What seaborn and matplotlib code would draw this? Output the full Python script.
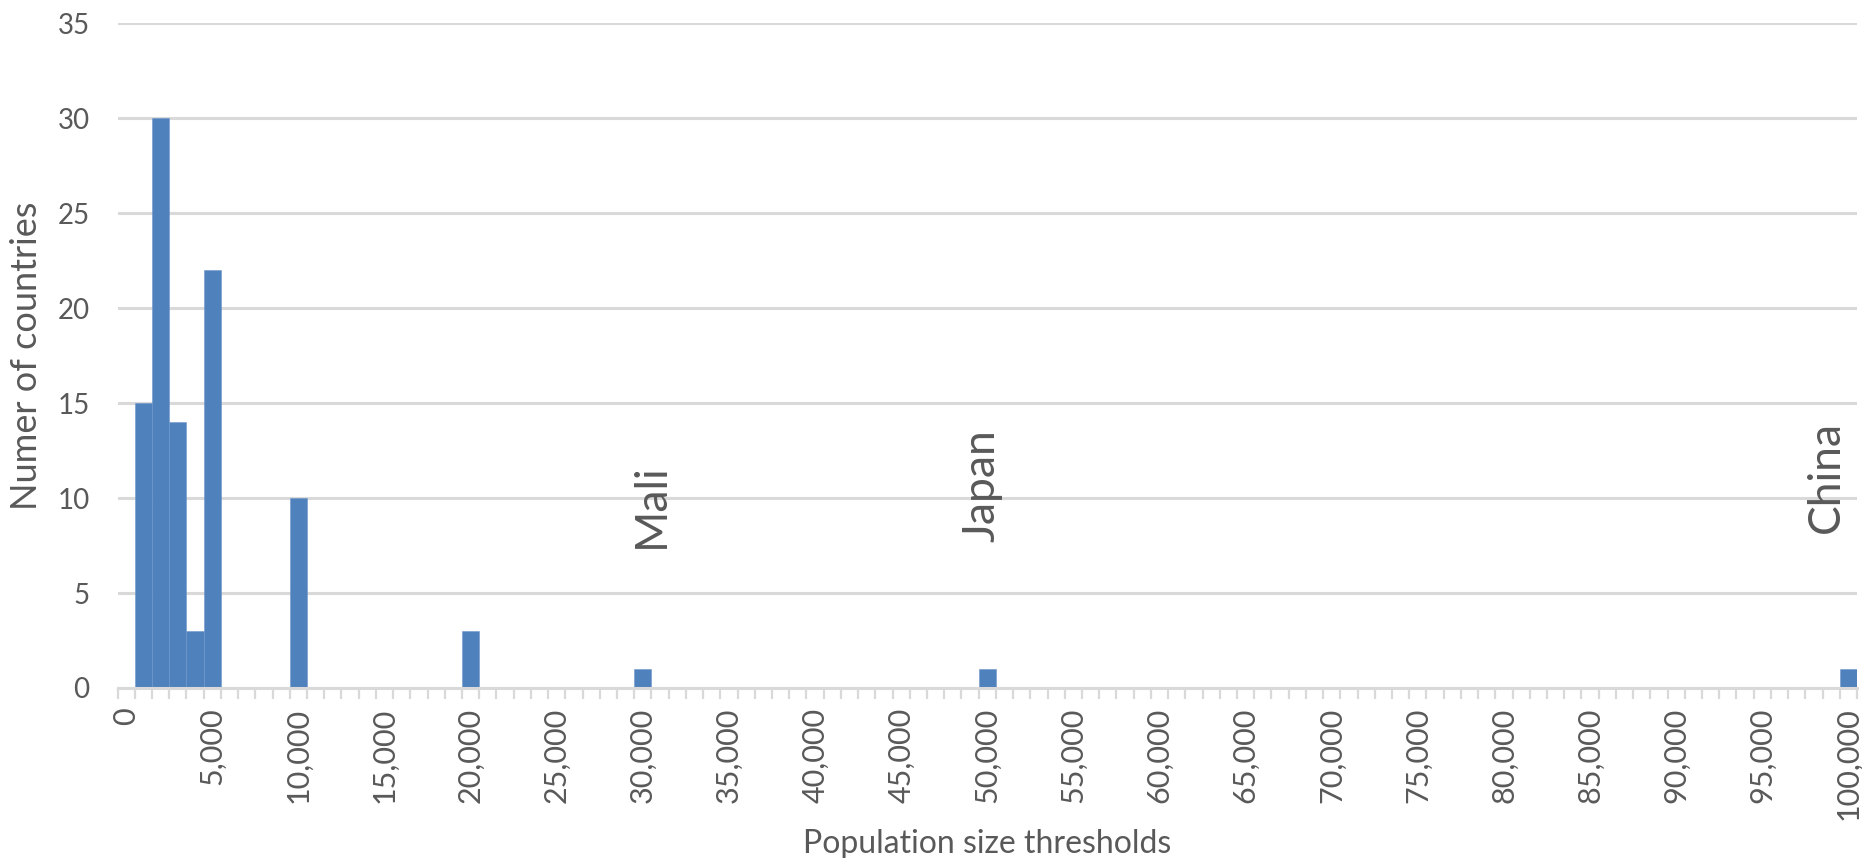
import numpy as np
import pandas as pd
import matplotlib
matplotlib.use("Agg")
import matplotlib.pyplot as plt
from matplotlib.ticker import FixedLocator, FixedFormatter
import seaborn as sns

# Category axis: population size thresholds in steps of 1,000
thresholds = list(range(0, 100001, 1000))

# Thresholds that hold at least one country, and how many countries each holds
bin_thresholds = [1000, 2000, 3000, 4000, 5000, 10000, 20000, 30000, 50000, 100000]
bin_counts = [15, 30, 14, 3, 22, 10, 3, 1, 1, 1]

# Countries named on the chart and the threshold bar they sit above
named_countries = ["Mali", "Japan", "China"]
named_thresholds = [30000, 50000, 100000]

counts = dict(zip(bin_thresholds, bin_counts))
df = pd.DataFrame({
    "threshold": thresholds,
    "count": [counts.get(t, 0) for t in thresholds],
})
df["label"] = df["threshold"].map(lambda v: f"{v:,}")

sns.set_theme(style="white")
plt.rcParams["font.family"] = ["Lato", "DejaVu Sans"]

BAR = "#4F81BD"
GRID = "#D9D9D9"
TEXT = "#595959"

W, H = 1862, 858
fig = plt.figure(figsize=(W / 100, H / 100), dpi=100)
left, right, top, bottom = 117.5, 1857, 23.3, 688
ax = fig.add_axes([left / W, 1 - bottom / H, (right - left) / W, (bottom - top) / H])

sns.barplot(
    data=df, x="label", y="count", order=df["label"].tolist(),
    width=1.0, color=BAR, saturation=1, edgecolor="#6D97CB", linewidth=0.4,
    ax=ax,
)

ax.set_xlim(-0.5, len(thresholds) - 0.5)
ax.set_ylim(0, 35)
ax.set_yticks(np.arange(0, 36, 5))
ax.yaxis.grid(True, color=GRID, linewidth=2.2)
ax.xaxis.grid(False)
ax.set_axisbelow(True)

for side in ("left", "right", "top"):
    ax.spines[side].set_visible(False)
ax.spines["bottom"].set_color(GRID)
ax.spines["bottom"].set_linewidth(2.2)

# Labels every fifth category, tick marks between every category
major_pos = list(range(0, len(thresholds), 5))
ax.xaxis.set_major_locator(FixedLocator(major_pos))
ax.xaxis.set_major_formatter(FixedFormatter([df["label"][i] for i in major_pos]))
ax.xaxis.set_minor_locator(FixedLocator(np.arange(-0.5, len(thresholds), 1.0)))
ax.tick_params(axis="x", which="major", length=0, pad=14, labelsize=22,
               labelcolor=TEXT, labelrotation=90)
ax.tick_params(axis="x", which="minor", length=8, width=1.6, color=GRID,
               direction="out", bottom=True)
ax.tick_params(axis="y", length=0, pad=20, labelsize=20, labelcolor=TEXT)

ax.set_xlabel("")
ax.set_ylabel("")
fig.text(987 / W, 1 - 844 / H, "Population size thresholds",
         ha="center", va="center", fontsize=23, color=TEXT)
fig.text(27 / W, 1 - 356 / H, "Numer of countries",
         ha="center", va="center", rotation=90, fontsize=26, color=TEXT)

# Country names above their bars
label_offsets = {"Mali": (0.5, 9.6), "Japan": (-0.3, 10.65), "China": (-1.3, 11.1)}
for name, thr in zip(named_countries, named_thresholds):
    idx = thresholds.index(thr)
    dx, yv = label_offsets[name]
    ax.text(idx + dx, yv, name, rotation=90, ha="center", va="center",
            fontsize=32, color=TEXT)

fig.savefig("out.png", dpi=100, facecolor="white")
